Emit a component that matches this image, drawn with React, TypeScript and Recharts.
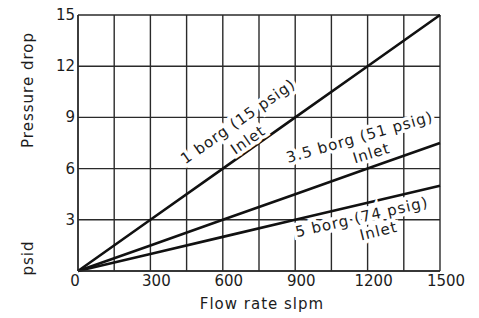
import { CartesianGrid, Label, Line, LineChart, ReferenceDot, XAxis, YAxis } from 'recharts';

const flow = [0, 300, 600, 900, 1200, 1500];
const borg1 = [0, 3, 6, 9, 12, 15];
const borg35 = [0, 1.5, 3, 4.5, 6, 7.5];
const borg5 = [0, 1, 2, 3, 4, 5];

const xTicks = [0, 150, 300, 450, 600, 750, 900, 1050, 1200, 1350, 1500];
const yTicks = [0, 3, 6, 9, 12, 15];

// curve annotations: baseline centre in data units
const noteText = ['1 borg (15 psig)', 'Inlet', '3.5 borg (51 psig)', 'Inlet', '5 borg (74 psig)', 'Inlet'];
const noteFlow = [675, 717, 1173, 1222, 1181, 1251];
const noteDrop = [8.52, 7.44, 7.56, 6.62, 2.87, 2.05];
const noteAngle = [-35, -35, -16, -17, -13, -14];

const data = flow.map((f, i) => ({ flow: f, b1: borg1[i], b35: borg35[i], b5: borg5[i] }));
const notes = noteText.map((text, i) => ({ text, x: noteFlow[i], y: noteDrop[i], angle: noteAngle[i] }));

const FONT = '"DejaVu Sans", sans-serif';
const INK = '#1c1c1c';
const GRID = '#2a2a2a';

function FlowTick({ x, y, payload }: any) {
  const v = payload.value as number;
  if (v % 300 !== 0) return null;
  return (
    <text x={x + (v === 0 ? -3 : 6)} y={y + 15} textAnchor="middle" fill={INK} fontFamily={FONT} fontSize={15}>
      {v}
    </text>
  );
}

function DropTick({ x, y, payload }: any) {
  const v = payload.value as number;
  if (v === 0) return null;
  return (
    <text x={x - 3} y={y} textAnchor="end" dominantBaseline="central" fill={INK} fontFamily={FONT} fontSize={15}>
      {v}
    </text>
  );
}

export default function App() {
  return (
    <div style={{ position: 'absolute', left: 0, top: 0, width: 479, height: 318, background: '#fff' }}>
      <LineChart width={479} height={318} data={data} margin={{ top: 15, right: 39, bottom: 0, left: 0 }}>
        <CartesianGrid stroke={GRID} strokeWidth={1.4} horizontalValues={yTicks} verticalValues={xTicks} />
        <XAxis
          dataKey="flow"
          type="number"
          domain={[0, 1500]}
          ticks={xTicks}
          tick={<FlowTick />}
          tickLine={false}
          tickSize={0}
          tickMargin={0}
          axisLine={{ stroke: GRID, strokeWidth: 1.4 }}
          height={47}
          interval={0}
        >
          <Label
            content={({ viewBox }: any) => (
              <text
                x={viewBox.x + viewBox.width / 2 + 3}
                y={309}
                textAnchor="middle"
                fill={INK}
                fontFamily={FONT}
                fontSize={15}
                letterSpacing={1}
              >
                Flow rate slpm
              </text>
            )}
          />
        </XAxis>
        <YAxis
          type="number"
          domain={[0, 15]}
          ticks={yTicks}
          tick={<DropTick />}
          tickLine={false}
          tickSize={0}
          tickMargin={0}
          axisLine={{ stroke: GRID, strokeWidth: 1.4 }}
          width={78}
          interval={0}
        >
          <Label
            content={() => (
              <g fill={INK} fontFamily={FONT} fontSize={15} letterSpacing={1}>
                <text x={28} y={90} textAnchor="middle" dominantBaseline="central" transform="rotate(-90 28 90)">
                  Pressure drop
                </text>
                <text x={28} y={258} textAnchor="middle" dominantBaseline="central" transform="rotate(-90 28 258)">
                  psid
                </text>
              </g>
            )}
          />
        </YAxis>
        <Line dataKey="b1" stroke="#111" strokeWidth={2.6} dot={false} isAnimationActive={false} />
        <Line dataKey="b35" stroke="#111" strokeWidth={2.6} dot={false} isAnimationActive={false} />
        <Line dataKey="b5" stroke="#111" strokeWidth={2.6} dot={false} isAnimationActive={false} />
        {notes.map((n, i) => (
          <ReferenceDot
            key={i}
            x={n.x}
            y={n.y}
            r={0}
            ifOverflow="visible"
            shape={(p: any) => (
              <text
                x={p.cx}
                y={p.cy}
                textAnchor="middle"
                transform={`rotate(${n.angle} ${p.cx} ${p.cy})`}
                fill={INK}
                stroke="#fff"
                strokeWidth={7}
                paintOrder="stroke"
                fontFamily={FONT}
                fontSize={15}
                letterSpacing={1}
              >
                {n.text}
              </text>
            )}
          />
        ))}
      </LineChart>
    </div>
  );
}
